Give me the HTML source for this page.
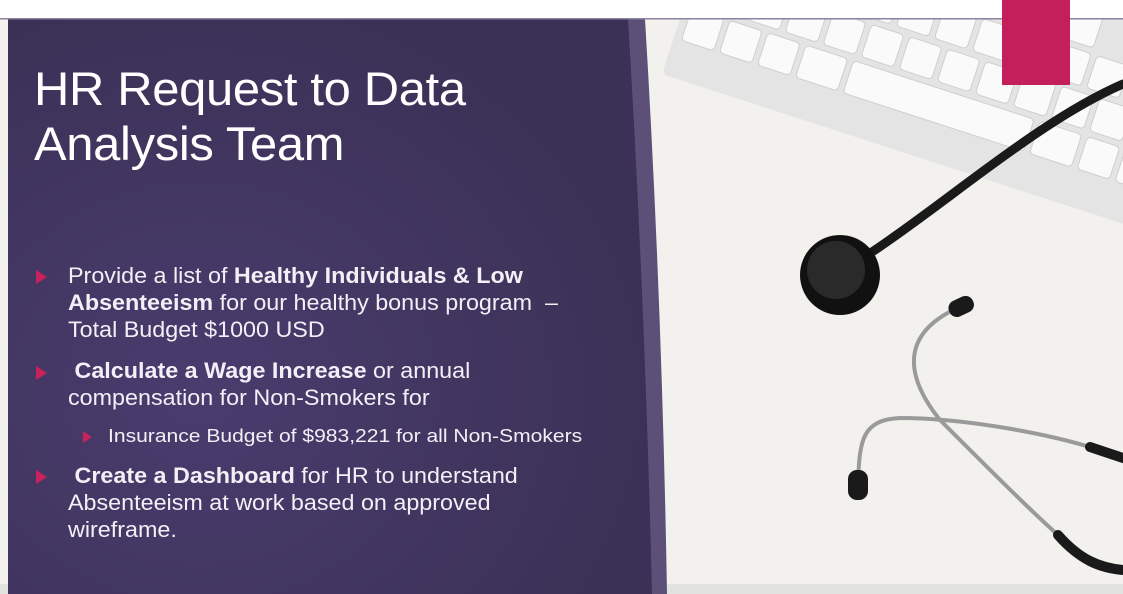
<!DOCTYPE html>
<html><head><meta charset="utf-8"><style>
body{margin:0;width:1123px;height:594px;overflow:hidden;background:#fff;font-family:"Liberation Sans",sans-serif;position:relative}
.t{position:absolute;color:#fff;white-space:nowrap;transform-origin:0 0}
.title{font-size:47px;left:34px;letter-spacing:-0.3px;transform:scaleX(1.04)}
.b{font-size:22px;left:68px;color:#f2f0f6;transform:scaleX(1.06)}
.s{font-size:18px;left:108px;color:#f2f0f6;transform:scaleX(1.17)}
.tri{position:absolute;width:0;height:0;border-top:7px solid transparent;border-bottom:7px solid transparent;border-left:11px solid #c8215b}
</style></head><body>
<svg width="1123" height="594" style="position:absolute;left:0;top:0">
<defs>
<radialGradient id="pg" cx="0.3" cy="0.65" r="0.7"><stop offset="0" stop-color="#4a3c6e"/><stop offset="1" stop-color="#3b3156"/></radialGradient>
<clipPath id="cl"><rect x="0" y="19" width="1123" height="575"/></clipPath>
</defs>
<rect x="0" y="19" width="1123" height="575" fill="#f2f1ed"/>
<g clip-path="url(#cl)">
<g transform="translate(662,74) rotate(18)">
<rect x="0" y="-220" width="560" height="220" rx="6" fill="#e4e4e4"/>
<g fill="#fafafa" stroke="#cfcfcf" stroke-width="1">
<rect x="8" y="-112" width="50" height="34" rx="4"/><rect x="64" y="-112" width="34" height="34" rx="4"/><rect x="104" y="-112" width="34" height="34" rx="4"/><rect x="144" y="-112" width="34" height="34" rx="4"/><rect x="184" y="-112" width="34" height="34" rx="4"/><rect x="224" y="-112" width="34" height="34" rx="4"/><rect x="264" y="-112" width="34" height="34" rx="4"/><rect x="304" y="-112" width="34" height="34" rx="4"/><rect x="344" y="-112" width="34" height="34" rx="4"/><rect x="384" y="-112" width="34" height="34" rx="4"/><rect x="424" y="-112" width="34" height="34" rx="4"/><rect x="464" y="-112" width="60" height="34" rx="4"/>
<rect x="8" y="-72" width="34" height="34" rx="4"/><rect x="48" y="-72" width="34" height="34" rx="4"/><rect x="88" y="-72" width="34" height="34" rx="4"/><rect x="128" y="-72" width="44" height="34" rx="4"/><rect x="178" y="-72" width="190" height="34" rx="4"/><rect x="374" y="-72" width="44" height="34" rx="4"/><rect x="424" y="-72" width="34" height="34" rx="4"/><rect x="464" y="-72" width="34" height="34" rx="4"/>
<rect x="8" y="-152" width="34" height="34" rx="4"/><rect x="48" y="-152" width="34" height="34" rx="4"/><rect x="88" y="-152" width="34" height="34" rx="4"/><rect x="128" y="-152" width="34" height="34" rx="4"/><rect x="168" y="-152" width="34" height="34" rx="4"/><rect x="208" y="-152" width="34" height="34" rx="4"/><rect x="248" y="-152" width="34" height="34" rx="4"/><rect x="288" y="-152" width="34" height="34" rx="4"/><rect x="328" y="-152" width="34" height="34" rx="4"/><rect x="368" y="-152" width="34" height="34" rx="4"/><rect x="408" y="-152" width="34" height="34" rx="4"/>
<rect x="8" y="-192" width="34" height="34" rx="4"/><rect x="48" y="-192" width="34" height="34" rx="4"/><rect x="88" y="-192" width="34" height="34" rx="4"/><rect x="128" y="-192" width="34" height="34" rx="4"/><rect x="168" y="-192" width="34" height="34" rx="4"/><rect x="208" y="-192" width="34" height="34" rx="4"/><rect x="248" y="-192" width="34" height="34" rx="4"/><rect x="288" y="-192" width="34" height="34" rx="4"/><rect x="328" y="-192" width="34" height="34" rx="4"/><rect x="368" y="-192" width="34" height="34" rx="4"/>
</g></g>
</g>
<g fill="none" stroke-linecap="round">
<path d="M872 252 C 950 200, 1040 120, 1123 84" stroke="#1a1a1a" stroke-width="9"/>
<path d="M962 306 C 905 330, 900 370, 940 420 C 990 470, 1030 510, 1058 535" stroke="#9a9a9a" stroke-width="4"/>
<path d="M1058 535 C 1080 560, 1100 568, 1123 570" stroke="#1a1a1a" stroke-width="10"/>
<path d="M858 480 C 860 440, 862 420, 900 418 C 960 418, 1040 432, 1090 447" stroke="#9a9a9a" stroke-width="4"/>
<path d="M1090 447 L1123 458" stroke="#1a1a1a" stroke-width="10"/>
</g>
<circle cx="840" cy="275" r="40" fill="#111"/><circle cx="836" cy="270" r="29" fill="#2a2a2a"/>
<rect x="948" y="298" width="26" height="17" rx="8" transform="rotate(-25 961 306)" fill="#1a1a1a"/>
<rect x="848" y="470" width="20" height="30" rx="9" fill="#1a1a1a"/>
<rect x="0" y="584" width="1123" height="10" fill="#e2e2e0"/>
<path d="M8 19 L645 19 Q662 300 667 594 L8 594 Z" fill="#5c5078"/>
<path d="M8 19 L628 19 Q645 300 652 594 L8 594 Z" fill="url(#pg)"/>
<rect x="0" y="18" width="1123" height="1.5" fill="#8a84a0"/>
<rect x="1002" y="0" width="68" height="85" fill="#c41e5b"/>
</svg>
<div class="t title" style="top:61px">HR Request to Data</div>
<div class="t title" style="top:116px">Analysis Team</div>
<div class="tri" style="left:36px;top:270px"></div>
<div class="t b" style="top:263px">Provide a list of <b>Healthy Individuals &amp; Low</b></div>
<div class="t b" style="top:290px"><b>Absenteeism</b> for our healthy bonus program&nbsp; –</div>
<div class="t b" style="top:317px">Total Budget $1000 USD</div>
<div class="tri" style="left:36px;top:366px"></div>
<div class="t b" style="top:358px">&nbsp;<b>Calculate a Wage Increase</b> or annual</div>
<div class="t b" style="top:385px">compensation for Non-Smokers for</div>
<div class="tri" style="left:83px;top:431px;border-top-width:6px;border-bottom-width:6px;border-left-width:9px"></div>
<div class="t s" style="top:426px">Insurance Budget of $983,221 for all Non-Smokers</div>
<div class="tri" style="left:36px;top:470px"></div>
<div class="t b" style="top:463px">&nbsp;<b>Create a Dashboard</b> for HR to understand</div>
<div class="t b" style="top:490px">Absenteeism at work based on approved</div>
<div class="t b" style="top:517px">wireframe.</div>
</body></html>
